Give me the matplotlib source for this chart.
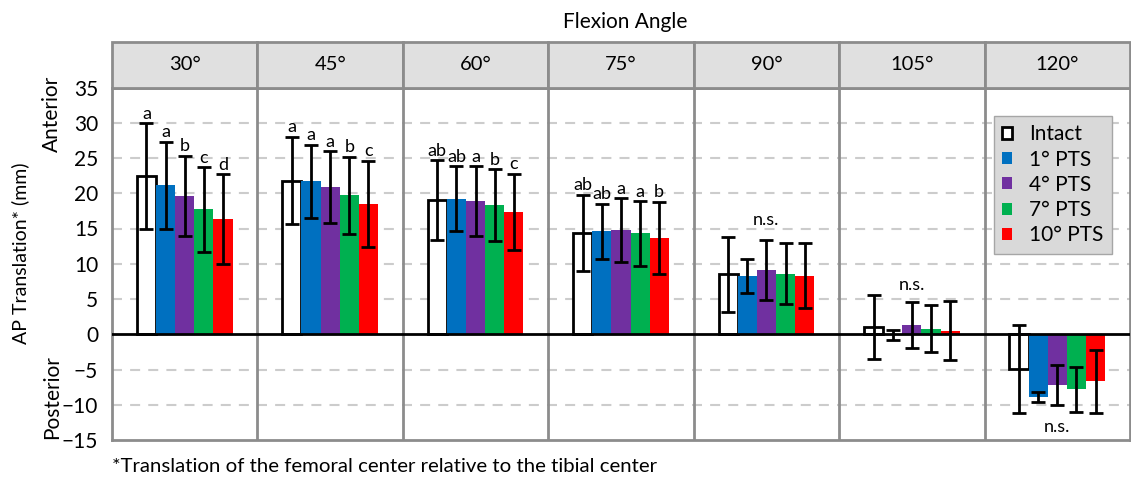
import matplotlib

matplotlib.use("Agg")
import matplotlib.pyplot as plt  # noqa: E402
from matplotlib.patches import Patch, Rectangle  # noqa: E402

plt.rcParams["font.family"] = ["Lato", "DejaVu Sans"]

angles = ["30°", "45°", "60°", "75°", "90°", "105°", "120°"]
groups = ["Intact", "1° PTS", "4° PTS", "7° PTS", "10° PTS"]

# mean AP translation (mm) per group, one value per flexion angle
intact = [22.4, 21.8, 19.0, 14.4, 8.5, 1.0, -4.9]
pts1 = [21.1, 21.7, 19.2, 14.6, 8.3, -0.1, -8.9]
pts4 = [19.6, 20.9, 18.9, 14.8, 9.1, 1.3, -7.2]
pts7 = [17.7, 19.7, 18.3, 14.3, 8.6, 0.8, -7.8]
pts10 = [16.3, 18.5, 17.4, 13.7, 8.3, 0.5, -6.7]

# standard deviations
intact_sd = [7.5, 6.2, 5.7, 5.4, 5.3, 4.5, 6.2]
pts1_sd = [6.2, 5.2, 4.6, 3.9, 2.4, 0.75, 0.65]
pts4_sd = [5.7, 5.1, 4.9, 4.5, 4.2, 3.3, 2.8]
pts7_sd = [6.0, 5.5, 5.1, 4.6, 4.3, 3.35, 3.2]
pts10_sd = [6.4, 6.1, 5.4, 5.1, 4.6, 4.2, 4.5]

# significance letters (None where a single n.s. label is used)
letters = [
    ["a", "a", "b", "c", "d"],
    ["a", "a", "a", "b", "c"],
    ["ab", "ab", "a", "b", "c"],
    ["ab", "ab", "a", "a", "b"],
    None, None, None,
]
ns_pos = {4: 16.2, 5: 7.0, 6: -13.2}

means = [intact, pts1, pts4, pts7, pts10]
sds = [intact_sd, pts1_sd, pts4_sd, pts7_sd, pts10_sd]
colors = ["white", "#0070C0", "#7030A0", "#00B050", "#FF0000"]
edge_gray = "#8c8c8c"

W, H = 1131, 478
fig = plt.figure(figsize=(W / 100, H / 100), dpi=100)
left, right = 112 / W, 1130 / W
bottom, top = 1 - 440 / H, 1 - 87.5 / H
ax = fig.add_axes([left, bottom, right - left, top - bottom])
hax = fig.add_axes([left, top, right - left, 45.5 / H])

bw = 0.1315
n = len(angles)
for g in range(5):
    xs = [i + 0.5 + (g - 2) * bw for i in range(n)]
    if g == 0:
        ax.bar(xs, means[g], bw, color="white", edgecolor="black", lw=2, zorder=3)
    else:
        ax.bar(xs, means[g], bw, color=colors[g], lw=0, zorder=3)
    ax.errorbar(xs, means[g], yerr=sds[g], fmt="none", ecolor="black", elinewidth=2,
                capsize=5, capthick=2, zorder=4)
    for i in range(n):
        if letters[i] is None:
            continue
        ax.annotate(letters[i][g], (xs[i], means[g][i] + sds[g][i]), textcoords="offset points",
                    xytext=(0, 1), ha="center", va="bottom", fontsize=13)

for i, y in ns_pos.items():
    ax.text(i + 0.5, y, "n.s.", ha="center", va="center", fontsize=13)

for y in [-10, -5, 5, 10, 15, 20, 25, 30]:
    ax.axhline(y, color="#cccccc", lw=1.5, ls=(0, (4.8, 3.9)), zorder=1)
ax.axhline(0, color="black", lw=2, zorder=5)
for i in range(1, n):
    ax.axvline(i, color=edge_gray, lw=2, zorder=2)

ax.set_xlim(0, n)
ax.set_ylim(-15, 35)
ax.set_yticks(range(-15, 36, 5))
ax.set_xticks([])
ax.tick_params(axis="y", length=0, pad=10, labelsize=15)
for s in ax.spines.values():
    s.set_color(edge_gray)
    s.set_linewidth(2)

# strip headers
hax.set_xlim(0, n)
hax.set_ylim(0, 1)
hax.axis("off")
for i, a in enumerate(angles):
    hax.add_patch(Rectangle((i, 0), 1, 1, facecolor="#e0e0e0", edgecolor=edge_gray, lw=2, clip_on=False))
    hax.text(i + 0.5, 0.5, a, ha="center", va="center", fontsize=14.5)

handles = [Patch(facecolor="white", edgecolor="black", lw=2)] + \
          [Patch(facecolor=c) for c in colors[1:]]
leg = ax.legend(handles, groups, loc="upper left", bbox_to_anchor=(0.866, 0.919), borderaxespad=0,
                fontsize=15, handlelength=0.5, handleheight=0.5, handletextpad=0.8, labelspacing=0.25,
                fancybox=False, framealpha=1, facecolor="#d9d9d9", edgecolor="#a6a6a6")
leg.set_zorder(6)

fig.text(625 / W, 1 - 22 / H, "Flexion Angle", ha="center", va="center", fontsize=15)
fig.text(20 / W, 1 - 253 / H, "AP Translation* (mm)", rotation=90, ha="center", va="center", fontsize=14)
fig.text(52 / W, 1 - 114 / H, "Anterior", rotation=90, ha="center", va="center", fontsize=15)
fig.text(52 / W, 1 - 397 / H, "Posterior", rotation=90, ha="center", va="center", fontsize=15)
fig.text(112 / W, 1 - 467 / H, "*Translation of the femoral center relative to the tibial center",
         ha="left", va="center", fontsize=14.7)

fig.savefig("out.png", dpi=100)
